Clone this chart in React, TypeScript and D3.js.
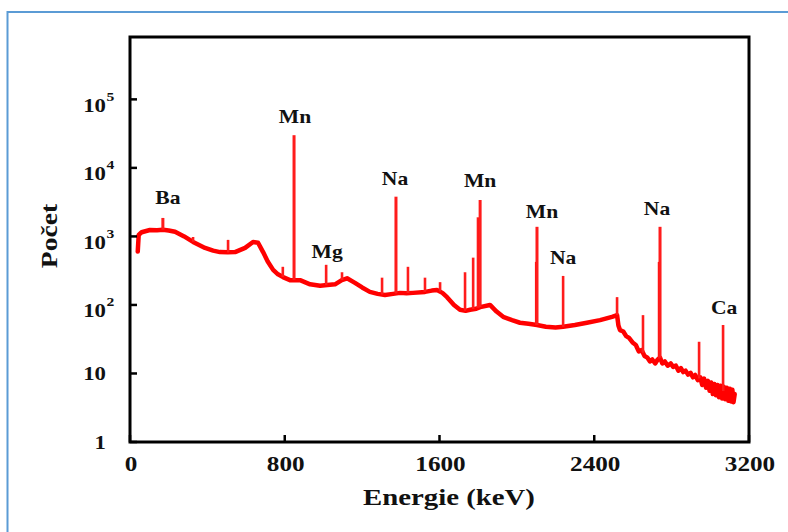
import React from "react";
import * as d3 from "d3";

// continuum of the gamma spectrum: [energy keV, counts]
const continuum: [number, number][] = [
  [40, 600], [45, 1050], [60, 1150], [103, 1240], [140, 1230], [170, 1250],
  [200, 1220], [233, 1170], [280, 1000], [326, 830], [388, 680], [430, 620],
  [465, 590], [505, 585], [543, 590], [595, 680], [636, 830], [662, 810],
  [688, 590], [712, 430], [740, 325], [765, 280], [791, 255], [827, 230],
  [879, 230], [931, 200], [983, 190], [1020, 195], [1060, 200], [1095, 230],
  [1122, 245], [1163, 210], [1200, 180], [1240, 155], [1280, 145], [1318, 140],
  [1360, 145], [1396, 150], [1430, 148], [1463, 150], [1525, 155], [1560, 162],
  [1587, 165], [1615, 150], [1639, 130], [1675, 100], [1706, 85], [1735, 82],
  [1758, 85], [1790, 88], [1810, 93], [1861, 100], [1895, 80], [1929, 67],
  [1975, 60], [2016, 55], [2060, 53], [2104, 51], [2150, 48], [2200, 47],
  [2239, 48], [2300, 51], [2362, 55], [2430, 60], [2492, 67], [2518, 71],
  [2525, 50], [2533, 43], [2550, 41], [2565, 35], [2580, 33], [2600, 28],
  [2615, 26], [2630, 21], [2645, 22], [2660, 18], [2675, 17], [2688, 15],
  [2700, 16], [2715, 14], [2728, 16], [2740, 17], [2752, 14], [2765, 15],
  [2780, 13], [2795, 14], [2808, 12.5], [2822, 13], [2835, 11], [2848, 12],
  [2860, 10.5], [2872, 11], [2885, 9.6], [2898, 10.2], [2910, 8.8], [2922, 9.5],
  [2935, 8], [2948, 8.8], [2958, 6.8], [2968, 8.4], [2978, 6.2], [2988, 7.8],
  [2996, 5.6], [3005, 7.4], [3013, 5], [3021, 7], [3029, 4.8], [3037, 6.8],
  [3045, 4.5], [3053, 6.6], [3061, 4.3], [3069, 6.4], [3077, 4.2], [3085, 6.2],
  [3093, 4], [3101, 6], [3108, 3.9], [3114, 5.8], [3120, 3.8], [3126, 5],
];

// photopeaks: [energy keV, peak counts]
const peaks: [number, number][] = [
  [170, 1860], [326, 980], [507, 890], [790, 360], [848, 30000], [1014, 385],
  [1096, 300], [1303, 250], [1375, 3800], [1437, 360], [1525, 250],
  [1603, 215], [1732, 300], [1774, 490], [1800, 1900], [1810, 3400],
  [2100, 425], [2104, 1380], [2239, 265], [2518, 130], [2652, 71],
  [2735, 425], [2740, 1380], [2942, 29], [3066, 51],
];

const peakLabels = ["Ba", "Mn", "Mg", "Na", "Mn", "Mn", "Na", "Na", "Ca"];
const labelEnergies = [170, 848, 1014, 1375, 1810, 2104, 2239, 2740, 3066];
const labelNudge: [number, number][] = [
  [5, -14], [1, -12], [1, -7], [-1, -12], [0, -13], [5, -9], [0, -12], [-3, -12], [1, -11],
];

const xTicks = [0, 800, 1600, 2400, 3200];
const yTicks = [1, 10, 100, 1000, 10000, 100000];

const W = 788;
const H = 532;
const left = 130;
const right = 749;
const top = 37;
const bottom = 442;
const FONT = "'Liberation Serif', 'Times New Roman', serif";
const SX = 1.2; // the original type is stretched horizontally

function Txt({ x, y, size, anchor = "middle", rotate = 0, children }: any) {
  return (
    <text
      transform={`translate(${x},${y}) rotate(${rotate}) scale(${SX},1)`}
      textAnchor={anchor}
      fontFamily={FONT}
      fontWeight="bold"
      fontSize={size}
      fill="#111"
    >
      {children}
    </text>
  );
}

export default function App() {
  const x = d3.scaleLinear().domain([0, 3200]).range([left, right]);
  const y = d3.scaleLog().domain([1, Math.pow(10, 5.91)]).range([bottom, top]);

  const line = d3
    .line<[number, number]>()
    .x((d) => x(d[0]))
    .y((d) => y(d[1]));

  // continuum value under a peak (log-linear between listed points)
  const baseAt = (e: number) => {
    const i = d3.bisector((d: [number, number]) => d[0]).left(continuum, e);
    const a = continuum[Math.max(0, i - 1)];
    const b = continuum[Math.min(continuum.length - 1, i)];
    if (a[0] === b[0]) return a[1];
    const t = (e - a[0]) / (b[0] - a[0]);
    return Math.pow(10, Math.log10(a[1]) + t * (Math.log10(b[1]) - Math.log10(a[1])));
  };

  const supers: Record<number, string> = { 100: "2", 1000: "3", 10000: "4", 100000: "5" };

  return (
    <svg width={W} height={H} style={{ display: "block" }}>
      <style>{"body{margin:0}"}</style>
      <defs>
        <filter id="soft" x="-5%" y="-5%" width="110%" height="110%">
          <feGaussianBlur stdDeviation="0.6" />
        </filter>
      </defs>
      <rect x={0} y={0} width={W} height={H} fill="#fff" />

      {/* blue frame */}
      <line x1={7.5} y1={12} x2={W} y2={12} stroke="#5b9bd5" strokeWidth={2} />
      <line x1={7.5} y1={11} x2={7.5} y2={H} stroke="#5b9bd5" strokeWidth={2} />

      {/* spectrum */}
      <g filter="url(#soft)">
        <path
          d={line(continuum) || ""}
          fill="none"
          stroke="#ff0000"
          strokeWidth={4.5}
          strokeLinejoin="round"
          strokeLinecap="round"
        />
        {peaks.map(([e, c], i) => (
          <line
            key={i}
            x1={x(e)}
            x2={x(e)}
            y1={y(baseAt(e))}
            y2={y(c)}
            stroke="#ff1a1a"
            strokeWidth={c > 1000 ? 3 : 2.6}
          />
        ))}
      </g>

      {/* plot box */}
      <rect
        x={left}
        y={top}
        width={right - left}
        height={bottom - top}
        fill="none"
        stroke="#000"
        strokeWidth={3}
      />
      {xTicks.map((t) => (
        <line key={t} x1={x(t)} x2={x(t)} y1={bottom} y2={bottom - 7} stroke="#000" strokeWidth={2.5} />
      ))}
      {yTicks.map((t) => (
        <line key={t} x1={left} x2={left + 7} y1={y(t)} y2={y(t)} stroke="#000" strokeWidth={2.5} />
      ))}

      {/* tick labels */}
      {xTicks.map((t) => (
        <Txt key={t} x={x(t) + 1} y={470.5} size={21}>
          {t}
        </Txt>
      ))}
      {yTicks.map((t) =>
        t < 100 ? (
          <Txt key={t} x={106} y={y(t) + 6.5} size={19} anchor="end">
            {t}
          </Txt>
        ) : (
          <g key={t}>
            <Txt x={106} y={y(t) + 12.5} size={19} anchor="end">
              10
            </Txt>
            <Txt x={106.5} y={y(t) + 1.5} size={13} anchor="start">
              {supers[t]}
            </Txt>
          </g>
        )
      )}

      {/* axis titles */}
      <Txt x={449} y={505} size={24}>
        Energie (keV)
      </Txt>
      <Txt x={57} y={236} size={23} rotate={-90}>
        Počet
      </Txt>

      {/* peak labels */}
      {peakLabels.map((lab, i) => {
        const e = labelEnergies[i];
        const top = peaks.find((p) => p[0] === e)![1];
        return (
          <Txt key={i} x={x(e) + labelNudge[i][0]} y={y(top) + labelNudge[i][1]} size={18}>
            {lab}
          </Txt>
        );
      })}
    </svg>
  );
}
